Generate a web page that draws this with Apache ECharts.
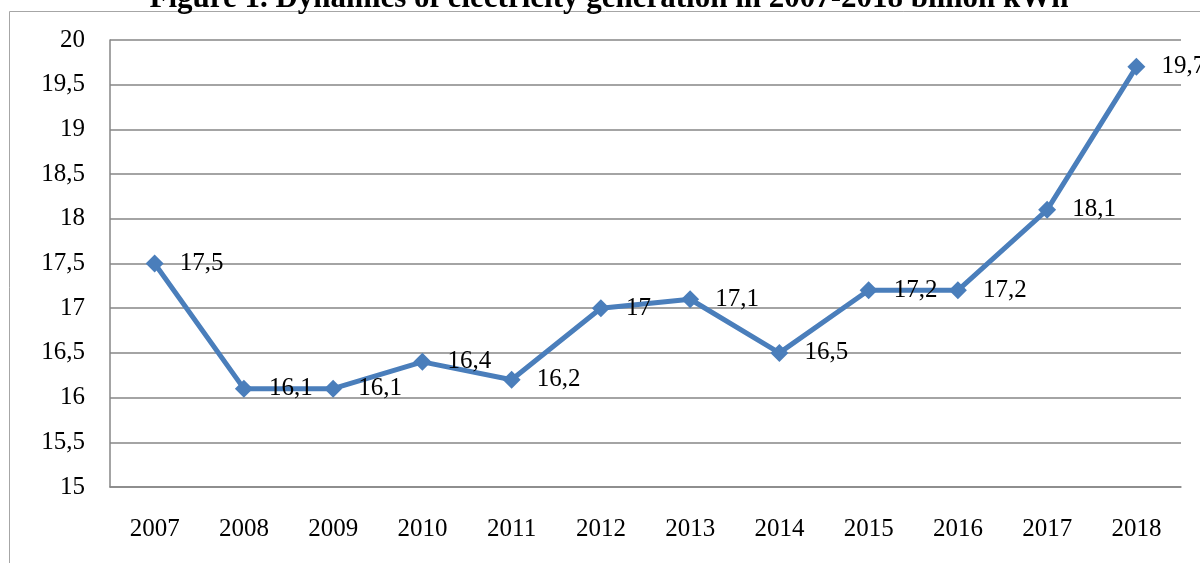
<!DOCTYPE html>
<html>
<head>
<meta charset="utf-8">
<script src="https://cdn.jsdelivr.net/npm/echarts@6/dist/echarts.min.js"></script>
<style>
  html, body { margin: 0; padding: 0; background: #fff; }
  #chart { width: 1200px; height: 563px; }
</style>
</head>
<body>
<div id="chart"></div>
<script>
// data
var years = ['2007', '2008', '2009', '2010', '2011', '2012', '2013', '2014', '2015', '2016', '2017', '2018'];
var generation = [17.5, 16.1, 16.1, 16.4, 16.2, 17, 17.1, 16.5, 17.2, 17.2, 18.1, 19.7];
var titleText = 'Figure 1. Dynamics of electricity generation in 2007-2018 billion kWh';

var serif = '"Liberation Serif", "Times New Roman", serif';
// comma as decimal separator
function fmt(v) {
  return String(v).replace('.', ',');
}

var myChart = echarts.init(document.getElementById('chart'));
var option = {
  animation: false,
  backgroundColor: '#fff',
  graphic: [
    {
      type: 'rect',
      shape: { x: 9.5, y: 11.5, width: 1300, height: 700 },
      style: { fill: 'none', stroke: '#a6a6a6', lineWidth: 1 },
      silent: true
    },
    {
      type: 'text',
      x: 609,
      y: 14,
      style: {
        text: titleText,
        font: 'bold 31px ' + serif,
        fill: '#000',
        textAlign: 'center',
        textVerticalAlign: 'bottom'
      }
    }
  ],
  grid: {
    left: 110,
    right: 19,
    top: 40,
    bottom: 76
  },
  xAxis: {
    type: 'category',
    data: years,
    boundaryGap: true,
    axisLine: { lineStyle: { color: '#868686', width: 1.5 } },
    axisTick: { show: false },
    axisLabel: {
      color: '#000',
      fontFamily: serif,
      fontSize: 25,
      margin: 30
    }
  },
  yAxis: {
    type: 'value',
    min: 15,
    max: 20,
    interval: 0.5,
    axisLine: { show: true, lineStyle: { color: '#868686', width: 1.5 } },
    axisTick: { show: false },
    splitLine: { lineStyle: { color: '#868686', width: 1.5 } },
    axisLabel: {
      color: '#000',
      fontFamily: serif,
      fontSize: 25,
      margin: 25,
      formatter: fmt
    }
  },
  series: [{
    type: 'line',
    data: generation,
    symbol: 'diamond',
    symbolSize: 18,
    lineStyle: { color: '#4a7ebb', width: 5 },
    itemStyle: { color: '#4a7ebb' },
    label: {
      show: true,
      position: 'right',
      distance: 16,
      color: '#000',
      fontFamily: serif,
      fontSize: 25,
      formatter: function (p) { return fmt(p.value); }
    }
  }]
};
myChart.setOption(option);
</script>
</body>
</html>
